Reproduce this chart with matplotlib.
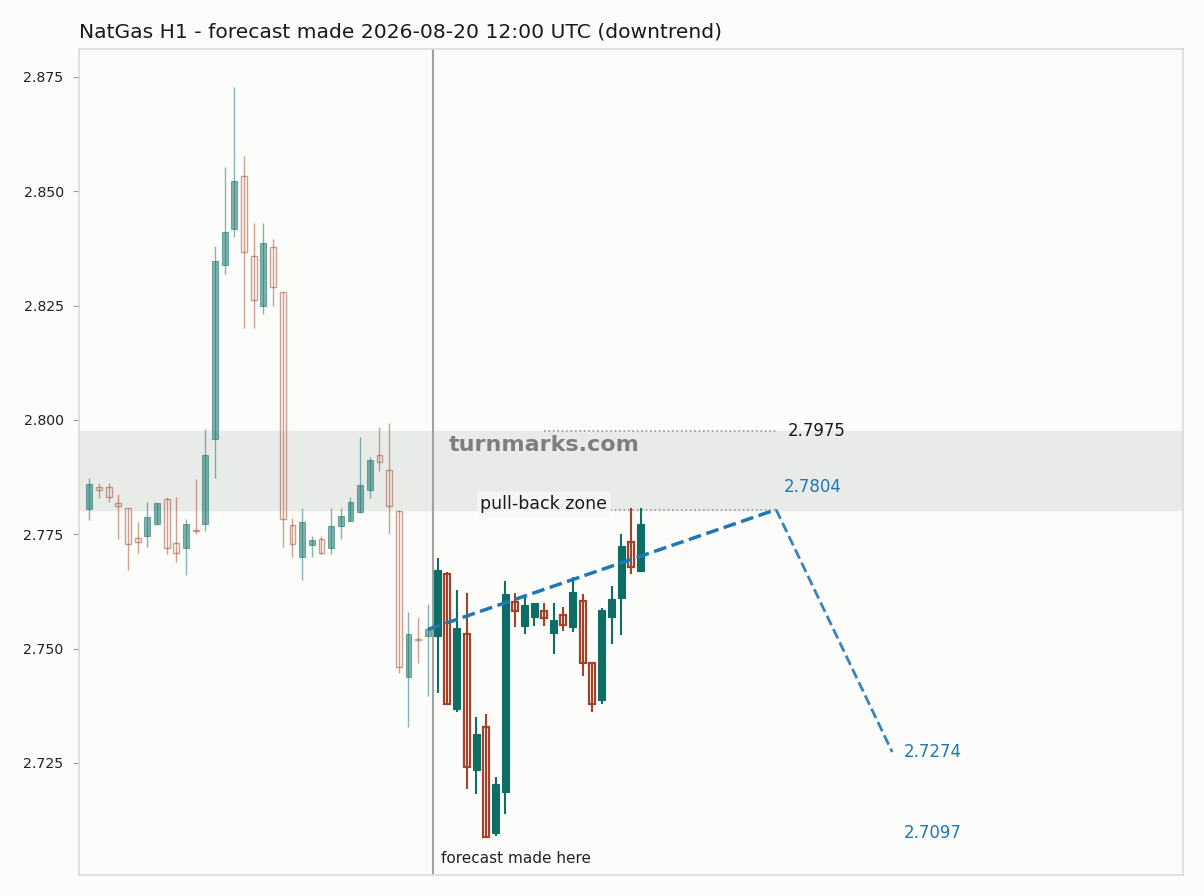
import numpy as np
import matplotlib
matplotlib.use("Agg")
import matplotlib.pyplot as plt

# history bars before the forecast (faded)
hist_open = [2.7806, 2.7853, 2.7853, 2.7818, 2.7807, 2.7741, 2.7747, 2.7772, 2.7827, 2.7730,
             2.7721, 2.7759, 2.7772, 2.7958, 2.8338, 2.8418, 2.8533, 2.8358, 2.8250, 2.8378,
             2.8279, 2.7770, 2.7700, 2.7727, 2.7739, 2.7719, 2.7769, 2.7779, 2.7798, 2.7846,
             2.7923, 2.7890, 2.7800, 2.7439, 2.7520, 2.7528]
hist_high = [2.7873, 2.7862, 2.7862, 2.7838, 2.7808, 2.7776, 2.7821, 2.7819, 2.7831, 2.7831,
             2.7783, 2.7870, 2.7980, 2.8380, 2.8553, 2.8727, 2.8576, 2.8430, 2.8430, 2.8396,
             2.8280, 2.7786, 2.7807, 2.7747, 2.7747, 2.7807, 2.7807, 2.7831, 2.7962, 2.7920,
             2.7985, 2.7993, 2.7802, 2.7579, 2.7570, 2.7597]
hist_low = [2.7781, 2.7829, 2.7820, 2.7739, 2.7672, 2.7709, 2.7722, 2.7770, 2.7707, 2.7689,
            2.7661, 2.7751, 2.7757, 2.7873, 2.8319, 2.8401, 2.8200, 2.8200, 2.8232, 2.8250,
            2.7723, 2.7701, 2.7650, 2.7700, 2.7706, 2.7706, 2.7739, 2.7778, 2.7797, 2.7829,
            2.7888, 2.7751, 2.7447, 2.7328, 2.7468, 2.7397]
hist_close = [2.7860, 2.7846, 2.7831, 2.7811, 2.7728, 2.7733, 2.7787, 2.7818, 2.7719, 2.7709,
              2.7772, 2.7757, 2.7923, 2.8347, 2.8410, 2.8522, 2.8367, 2.8262, 2.8386, 2.8290,
              2.7783, 2.7729, 2.7776, 2.7737, 2.7710, 2.7768, 2.7789, 2.7820, 2.7857, 2.7912,
              2.7908, 2.7811, 2.7459, 2.7531, 2.7518, 2.7542]

# bars after the forecast
act_open = [2.7528, 2.7663, 2.7369, 2.7531, 2.7235, 2.7328, 2.7097, 2.7187, 2.7601, 2.7550, 2.7570,
            2.7583, 2.7535, 2.7573, 2.7548, 2.7604, 2.7468, 2.7388, 2.7570, 2.7611, 2.7733, 2.7670]
act_high = [2.7698, 2.7667, 2.7628, 2.7622, 2.7351, 2.7357, 2.7219, 2.7648, 2.7621, 2.7614, 2.7600,
            2.7600, 2.7600, 2.7590, 2.7656, 2.7620, 2.7470, 2.7588, 2.7637, 2.7751, 2.7807, 2.7807]
act_low = [2.7404, 2.7376, 2.7362, 2.7193, 2.7182, 2.7086, 2.7090, 2.7138, 2.7548, 2.7531, 2.7550,
           2.7550, 2.7488, 2.7539, 2.7537, 2.7441, 2.7361, 2.7379, 2.7510, 2.7530, 2.7663, 2.7670]
act_close = [2.7672, 2.7378, 2.7545, 2.7241, 2.7313, 2.7088, 2.7204, 2.7620, 2.7582, 2.7595, 2.7599,
             2.7566, 2.7563, 2.7552, 2.7624, 2.7469, 2.7378, 2.7585, 2.7609, 2.7724, 2.7679, 2.7773]

forecast_x = [35, 71, 83]
forecast_y = [2.7542, 2.7804, 2.7274]
zone_low, zone_high = 2.7804, 2.7975
extra_target = 2.7097
forecast_bar = 35.5

GREEN = "#0e6e66"
RED = "#a0432a"
BLUE = "#1f77b4"
BG = "#fcfcfa"


def draw_candles(ax, xs, o, h, l, c, alpha, wick_lw, red_lw, w_up, w_dn):
    for x, op, hi, lo, cl in zip(xs, o, h, l, c):
        up = cl >= op
        col = GREEN if up else RED
        ax.vlines(x, lo, hi, color=col, lw=wick_lw, alpha=alpha, zorder=3)
        if up:
            ax.bar(x, max(cl - op, 0.0002), bottom=op, width=w_up, color=col,
                   edgecolor=col, lw=0.8, alpha=alpha, zorder=4)
        else:
            ax.bar(x, max(op - cl, 0.0002), bottom=cl, width=w_dn, facecolor="none",
                   edgecolor=col, lw=red_lw, alpha=alpha, zorder=4)


fig = plt.figure(figsize=(12.04, 8.96), dpi=100, facecolor=BG)
ax = fig.add_axes([79 / 1204, 21 / 896, 1104 / 1204, 826 / 896], facecolor=BG)

ax.axhspan(zone_low, zone_high, color="#e9ebe9", zorder=1)

n_hist = len(hist_open)
xs_hist = np.arange(n_hist)
xs_act = np.arange(n_hist, n_hist + len(act_open))
draw_candles(ax, xs_hist, hist_open, hist_high, hist_low, hist_close,
             alpha=0.5, wick_lw=1.0, red_lw=1.0, w_up=0.6, w_dn=0.6)
draw_candles(ax, xs_act, act_open, act_high, act_low, act_close,
             alpha=1.0, wick_lw=1.5, red_lw=1.6, w_up=0.72, w_dn=0.62)

ax.axvline(forecast_bar, color="#9ea39f", lw=1.5, zorder=2)
ax.text(forecast_bar + 0.85, 2.7040, "forecast made here", fontsize=11,
        color="#222222", va="center", ha="left")

# forecast path
ax.plot(forecast_x[:2], forecast_y[:2], ls="--", color=BLUE, lw=2.5, zorder=5)
ax.plot(forecast_x[1:], forecast_y[1:], ls="--", color=BLUE, lw=2.0, alpha=0.9, zorder=5)

# zone edges
ax.hlines([zone_high, zone_low], 47, forecast_x[1], colors="#999999",
          linestyles=":", lw=1.2, zorder=2)
ax.text(forecast_x[1] + 1.2, zone_high, f"{zone_high:.4f}", fontsize=12,
        color="#1a1a1a", va="center")
ax.text(forecast_x[1] + 0.8, zone_low + 0.0049, f"{forecast_y[1]:.4f}", fontsize=12,
        color=BLUE, va="center")
ax.text(forecast_x[2] + 1.2, forecast_y[2], f"{forecast_y[2]:.4f}", fontsize=12,
        color=BLUE, va="center")
ax.text(forecast_x[2] + 1.2, extra_target, f"{extra_target:.4f}", fontsize=12,
        color=BLUE, va="center")

ax.text(47, 2.7816, "pull-back zone", fontsize=12.5, color="#1a1a1a",
        ha="center", va="center", zorder=6,
        bbox=dict(boxstyle="round,pad=0.2", facecolor="#f7f8f7", edgecolor="none", alpha=0.85))
ax.text(47, 2.7945, "turnmarks.com", fontsize=16, fontweight="bold",
        color="#7d7f7d", ha="center", va="center", zorder=6)

ax.set_xlim(-1.06, 113.06)
ax.set_ylim(2.7005, 2.8811)
ax.set_yticks([2.725, 2.750, 2.775, 2.800, 2.825, 2.850, 2.875])
ax.yaxis.set_major_formatter(matplotlib.ticker.FormatStrFormatter("%.3f"))
ax.set_xticks([])
ax.tick_params(axis="y", length=4.5, pad=6.5, color="#999999", labelsize=10.2,
               labelcolor="#222222")
for sp in ax.spines.values():
    sp.set_color("#d8dcd9")
    sp.set_linewidth(1.2)

ax.set_title("NatGas H1 - forecast made 2026-08-20 12:00 UTC (downtrend)",
             loc="left", fontsize=14.6, color="#1a1a1a", pad=8.5)

fig.savefig("out.png", dpi=100, facecolor=BG)
